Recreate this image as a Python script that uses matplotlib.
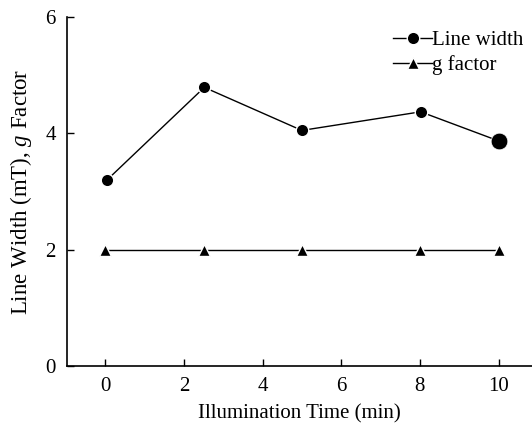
import numpy as np
import matplotlib.pyplot as plt

plt.rcParams['font.family'] = ['Liberation Serif', 'DejaVu Serif']
plt.rcParams['mathtext.fontset'] = 'custom'
plt.rcParams['mathtext.it'] = 'Liberation Serif:italic'
plt.rcParams['mathtext.rm'] = 'Liberation Serif'

# data
time_lw = [0.05, 2.52, 5.0, 8.02, 10.0]
line_width = [3.2, 4.79, 4.05, 4.37, 3.87]
time_g = [0.0, 2.5, 5.0, 8.0, 10.0]
g_factor = [2.0, 2.0, 2.0, 2.0, 2.0]
x_ticks = [0, 2, 4, 6, 8, 10]
y_ticks = [0, 2, 4, 6]

fig = plt.figure(figsize=(5.32, 4.25), dpi=100)
ax = fig.add_axes([67 / 532, 59 / 425, 1 - 67 / 532, 349 / 425])

ax.plot(time_lw, line_width, color='black', lw=1, marker='o', ms=9,
        mec='white', mew=1, label='Line width')
ax.plot(time_lw[-1], line_width[-1], 'o', color='black', ms=12,
        mec='white', mew=0.5)
ax.plot(time_g, g_factor, color='black', lw=1, marker='^', ms=9,
        mec='white', mew=1, label='g factor')

ax.set_xlim(-0.97, 10.85)
ax.set_ylim(0, 6)
ax.set_xticks(x_ticks)
ax.set_yticks(y_ticks)
ax.tick_params(direction='in', length=5, width=1, labelsize=15, pad=8)
for side in ['top', 'right']:
    ax.spines[side].set_visible(False)
for side in ['left', 'bottom']:
    ax.spines[side].set_linewidth(1.2)

ax.set_xlabel('Illumination Time (min)', fontsize=15, labelpad=6)
ax.set_ylabel('Line Width (mT), $g$ Factor', fontsize=16.5, labelpad=8)

ax.legend(loc='upper right', frameon=False, fontsize=15, handlelength=1.9,
          handletextpad=0.0, borderaxespad=0.0, labelspacing=0.25,
          markerscale=1.0, bbox_to_anchor=(1.0, 0.985))

fig.savefig('out.png', dpi=100)
